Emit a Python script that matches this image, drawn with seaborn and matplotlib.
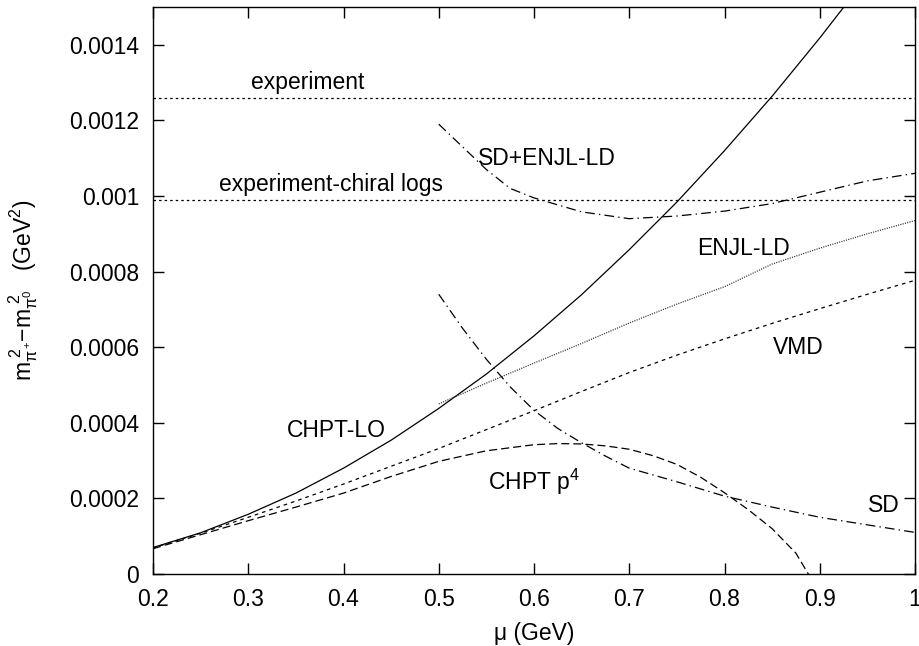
import matplotlib
matplotlib.use('Agg')
import matplotlib.pyplot as plt
import seaborn as sns
import numpy as np

# Curves (mu in GeV, value in GeV^2)
mu_lo = [0.2, 0.25, 0.3, 0.35, 0.4, 0.45, 0.5, 0.55, 0.6, 0.65, 0.7, 0.75, 0.8, 0.85, 0.9, 0.95]
chpt_lo = [0.00007, 0.000109, 0.000158, 0.000214, 0.00028, 0.000354, 0.000438, 0.000529,
           0.00063, 0.000739, 0.000858, 0.000984, 0.00112, 0.001264, 0.001418, 0.00158]

mu_p4 = [0.2, 0.25, 0.3, 0.35, 0.4, 0.45, 0.5, 0.55, 0.6, 0.625, 0.65, 0.675, 0.7, 0.725, 0.75,
         0.775, 0.8, 0.825, 0.85, 0.875, 0.888, 0.9]
chpt_p4 = [0.000067, 0.000104, 0.000141, 0.000177, 0.000214, 0.000258, 0.000298, 0.000326,
           0.000342, 0.000345, 0.000344, 0.000339, 0.00033, 0.000313, 0.00029, 0.000256,
           0.000215, 0.00017, 0.00012, 0.000055, 0.0, -0.000035]

mu_vmd = [0.2, 0.25, 0.3, 0.35, 0.4, 0.45, 0.5, 0.55, 0.6, 0.65, 0.7, 0.75, 0.8, 0.85, 0.9, 0.95, 1.0]
vmd = [0.000069, 0.000108, 0.00015, 0.000193, 0.000238, 0.000285, 0.000332, 0.000382, 0.000432,
       0.000483, 0.000533, 0.000579, 0.000622, 0.000663, 0.000702, 0.00074, 0.000777]

mu_enjl = [0.5, 0.55, 0.6, 0.65, 0.7, 0.75, 0.8, 0.85, 0.9, 0.95, 1.0]
enjl_ld = [0.00045, 0.000505, 0.000558, 0.00061, 0.000664, 0.000714, 0.00076, 0.00082,
           0.000862, 0.0009, 0.000935]

mu_sd = [0.5, 0.525, 0.55, 0.575, 0.6, 0.625, 0.65, 0.675, 0.7, 0.75, 0.8, 0.85, 0.9, 0.95, 1.0]
sd = [0.00074, 0.00065, 0.000568, 0.000495, 0.000433, 0.000385, 0.000347, 0.000312, 0.00028,
      0.000244, 0.000206, 0.000177, 0.00015, 0.00013, 0.00011]

mu_sum = [0.5, 0.525, 0.55, 0.575, 0.6, 0.65, 0.7, 0.75, 0.8, 0.85, 0.9, 0.95, 1.0]
sd_enjl = [0.00119, 0.00113, 0.00107, 0.00102, 0.000995, 0.000958, 0.00094, 0.000947, 0.00096,
           0.00098, 0.00101, 0.00104, 0.00106]

experiment = 0.00126
experiment_chiral = 0.00099

xticks = [0.2, 0.3, 0.4, 0.5, 0.6, 0.7, 0.8, 0.9, 1.0]
yticks = [0, 0.0002, 0.0004, 0.0006, 0.0008, 0.001, 0.0012, 0.0014]

sns.set_theme(style='ticks')
plt.rcParams['font.family'] = ['Liberation Sans', 'DejaVu Sans']
plt.rcParams['mathtext.fontset'] = 'custom'
plt.rcParams['mathtext.rm'] = 'Liberation Sans'
plt.rcParams['mathtext.it'] = 'Liberation Sans'
plt.rcParams['lines.scale_dashes'] = False
plt.rcParams['text.color'] = 'black'
plt.rcParams['axes.labelcolor'] = 'black'
fs = 16.5

fig = plt.figure(figsize=(9.2, 6.46), dpi=100)
ax = fig.add_axes([153 / 920, 1 - 574 / 646, 762 / 920, 567 / 646])

lw = 0.9
sns.lineplot(x=mu_lo, y=chpt_lo, ax=ax, color='black', lw=lw, linestyle='-')
sns.lineplot(x=mu_p4, y=chpt_p4, ax=ax, color='black', lw=lw, linestyle=(0, (5.8, 2.9)))
sns.lineplot(x=mu_vmd, y=vmd, ax=ax, color='black', lw=lw, linestyle=(0, (2.6, 2.9)))
sns.lineplot(x=mu_enjl, y=enjl_ld, ax=ax, color='#333333', lw=lw, linestyle=(0, (0.8, 0.9)))
sns.lineplot(x=mu_sd, y=sd, ax=ax, color='black', lw=lw, linestyle=(0, (7, 3, 1, 3)))
sns.lineplot(x=mu_sum, y=sd_enjl, ax=ax, color='black', lw=lw, linestyle=(0, (7, 3, 1, 3)))
ax.axhline(experiment, color='black', lw=lw, linestyle=(0, (1.8, 2.2)))
ax.axhline(experiment_chiral, color='black', lw=lw, linestyle=(0, (1.8, 2.2)))

# curve labels
ax.text(0.362, 0.0013, 'experiment', ha='center', va='center', fontsize=fs)
ax.text(0.387, 0.00103, 'experiment-chiral logs', ha='center', va='center', fontsize=fs)
ax.text(0.541, 0.0011, 'SD+ENJL-LD', ha='left', va='center', fontsize=fs)
ax.text(0.771, 0.000861, 'ENJL-LD', ha='left', va='center', fontsize=fs)
ax.text(0.851, 0.0006, 'VMD', ha='left', va='center', fontsize=fs)
ax.text(0.341, 0.00038, 'CHPT-LO', ha='left', va='center', fontsize=fs)
ax.text(0.552, 0.000243, r'CHPT p$^4$', ha='left', va='center', fontsize=fs)
ax.text(0.951, 0.00018, 'SD', ha='left', va='center', fontsize=fs)

ax.set_xlim(0.2, 1.0)
ax.set_ylim(0, 0.0015)
ax.set_xticks(xticks)
ax.set_yticks(yticks)
ax.set_xticklabels(['%g' % t for t in xticks])
ax.set_yticklabels(['%g' % t for t in yticks])
ax.tick_params(direction='in', length=8, width=1, colors='black', labelsize=fs,
               top=True, right=True, pad=10)
for s in ax.spines.values():
    s.set_linewidth(1)
    s.set_color('black')

ax.set_xlabel('μ (GeV)', fontsize=fs, labelpad=8)
ax.set_ylabel(r'$\mathregular{m_{\pi^+}^{\ 2}\!\!-\!m_{\pi^0}^{\ 2}}$   (GeV$^2$)', fontsize=fs)
ax.yaxis.set_label_coords(-0.148, 0.5)

fig.savefig('out.png', dpi=100)
